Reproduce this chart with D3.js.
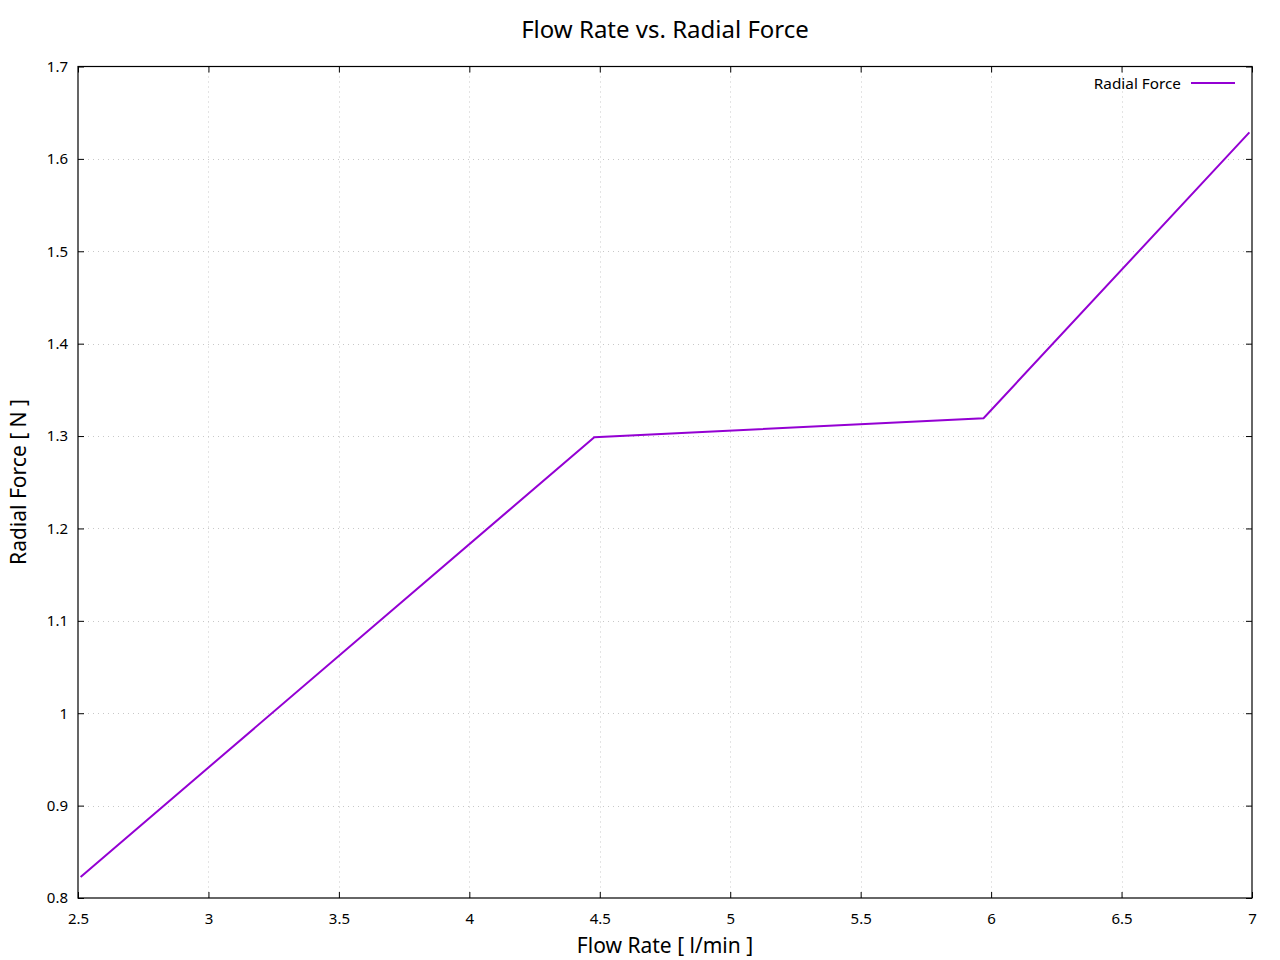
<!DOCTYPE html>
<html><head><meta charset="utf-8">
<script src="https://cdn.jsdelivr.net/npm/d3@7"></script>
<style>body{margin:0;background:#fff}svg{font-family:"Noto Sans","Open Sans",sans-serif}</style>
</head><body><svg id="c" width="1280" height="960"></svg>
<script>
const flowRate = [2.51, 4.479, 5.971, 6.99];
const radialForce = [0.8228, 1.2987, 1.3193, 1.6287];
const xTicks = [2.5, 3, 3.5, 4, 4.5, 5, 5.5, 6, 6.5, 7];
const yTicks = [0.8, 0.9, 1, 1.1, 1.2, 1.3, 1.4, 1.5, 1.6, 1.7];
const seriesName = "Radial Force";

const svg = d3.select("#c");
const L = 78, R = 1252, T = 66.5, B = 898;
const x = d3.scaleLinear().domain([2.5, 7]).range([L, R]);
const y = d3.scaleLinear().domain([0.8, 1.7]).range([B, T]);

// grid
const g = svg.append("g");
g.selectAll(".gx").data(xTicks.slice(1, -1)).join("line")
  .attr("x1", d => Math.round(x(d)) + 0.5).attr("x2", d => Math.round(x(d)) + 0.5)
  .attr("y1", T).attr("y2", B).attr("stroke", "#c8c8c8").attr("stroke-width", 1).attr("stroke-dasharray", "1,4");
g.selectAll(".gy").data(yTicks.slice(1, -1)).join("line")
  .attr("y1", d => Math.round(y(d)) + 0.5).attr("y2", d => Math.round(y(d)) + 0.5)
  .attr("x1", L).attr("x2", R).attr("stroke", "#c8c8c8").attr("stroke-width", 1).attr("stroke-dasharray", "1,4");

// axes with inward ticks
const tickLen = 6;
const fmt = d => String(d);
const xb = svg.append("g").attr("transform", `translate(0,${B})`)
  .call(d3.axisBottom(x).tickValues(xTicks).tickFormat(fmt).tickSizeInner(-tickLen).tickSizeOuter(0).tickPadding(15));
const xt = svg.append("g").attr("transform", `translate(0,${T})`)
  .call(d3.axisTop(x).tickValues(xTicks).tickFormat("").tickSizeInner(-tickLen).tickSizeOuter(0));
const yl = svg.append("g").attr("transform", `translate(${L},0)`)
  .call(d3.axisLeft(y).tickValues(yTicks).tickFormat(fmt).tickSizeInner(-tickLen).tickSizeOuter(0).tickPadding(10));
const yr = svg.append("g").attr("transform", `translate(${R},0)`)
  .call(d3.axisRight(y).tickValues(yTicks).tickFormat("").tickSizeInner(-tickLen).tickSizeOuter(0));
[xb, xt, yl, yr].forEach(a => {
  a.attr("font-size", 15).attr("font-family", "'Noto Sans',sans-serif");
  a.select(".domain").remove();
  a.selectAll("line").attr("stroke", "#000");
  a.selectAll("text").attr("font-size", 15).attr("fill", "#000");
});

// frame
svg.append("rect").attr("x", L).attr("y", T).attr("width", R - L).attr("height", B - T)
  .attr("fill", "none").attr("stroke", "#000").attr("stroke-width", 1.2);

// line
const pts = flowRate.map((v, i) => [v, radialForce[i]]);
svg.append("path").datum(pts)
  .attr("d", d3.line().x(d => x(d[0])).y(d => y(d[1])))
  .attr("fill", "none").attr("stroke", "#9400d3").attr("stroke-width", 2);

// legend
svg.append("text").attr("x", 1181).attr("y", 88.5).attr("text-anchor", "end")
  .attr("font-size", 15.3).text(seriesName);
svg.append("line").attr("x1", 1191).attr("x2", 1235).attr("y1", 83).attr("y2", 83)
  .attr("stroke", "#9400d3").attr("stroke-width", 2);

// title and labels
svg.append("text").attr("x", 665).attr("y", 38).attr("text-anchor", "middle")
  .attr("font-size", 24).text("Flow Rate vs. Radial Force");
svg.append("text").attr("x", 665).attr("y", 953).attr("text-anchor", "middle")
  .attr("font-size", 21).text("Flow Rate [ l/min ]");
svg.append("text").attr("transform", "translate(26,482) rotate(-90)").attr("text-anchor", "middle")
  .attr("font-size", 21).text("Radial Force [ N ]");
</script></body></html>
